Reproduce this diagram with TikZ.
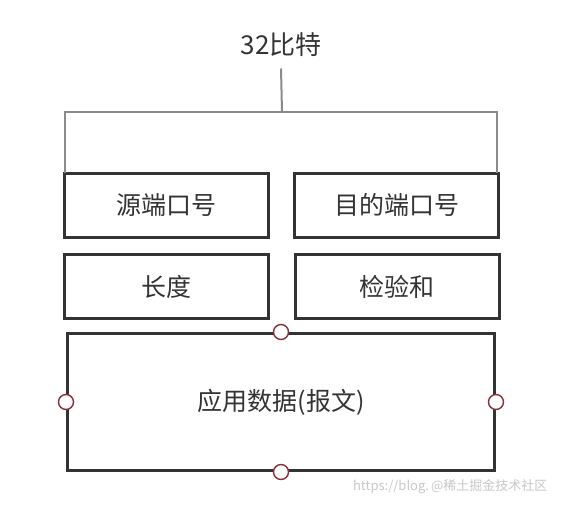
\documentclass[tikz,border=0pt]{standalone}
\usepackage{fontspec}
\newfontfamily\cjk{Noto Sans CJK SC}
\usepackage{tikz}
\definecolor{boxline}{HTML}{333333}
\definecolor{bracketline}{HTML}{8A8A8A}
\definecolor{handlered}{HTML}{8B2E3C}

\begin{document}
\begin{tikzpicture}[x=1pt,y=-1pt]

  \tikzset{FIELD/.style={draw=boxline, line width=3pt, minimum width=204pt, minimum height=64pt,
          inner sep=0pt, text=boxline, font=\cjk\fontsize{25}{28}\selectfont} }

  \tikzset{HANDLE/.style={draw=handlered, fill=white, circle, line width=1.4pt, minimum size=15pt, inner sep=0pt} }

  \tikzset{BRACKET/.style={draw=bracketline, line width=2pt} }

  \useasboundingbox (0,0) rectangle (562,508);

  \node (bits) at (281,45) [text=boxline, font=\cjk\fontsize{26}{29}\selectfont]{32比特};

  \node[FIELD] (src) at (166.5,205.0) {源端口号};
  \node[FIELD] (dst) at (396.5,205.0) {目的端口号};
  \node[FIELD] (len) at (166.5,286.5) {长度};
  \node[FIELD] (chk) at (397.0,286.5) {检验和};
  \node[FIELD, minimum width=427pt, minimum height=137pt] (app) at (281.0,402.0) {应用数据(报文)};

  \coordinate (top) at (282,112);

  \draw[BRACKET] ([yshift=-8pt]bits.south) -- (top);
  \draw[BRACKET] ([xshift=2pt,yshift=-1pt]src.north west) |- (top);
  \draw[BRACKET] ([xshift=-3pt,yshift=-1pt]dst.north east) |- (top);

  \node[HANDLE] (hn) at (app.north) {};
  \node[HANDLE] (hw) at (app.west)  {};
  \node[HANDLE] (he) at (app.east)  {};
  \node[HANDLE] (hs) at (app.south) {};

  \node (mark) at (551,487) [anchor=east, text=black!22, font=\cjk\fontsize{13}{15}\selectfont]{https://blog.\,@稀土掘金技术社区};
\end{tikzpicture}
\end{document}
